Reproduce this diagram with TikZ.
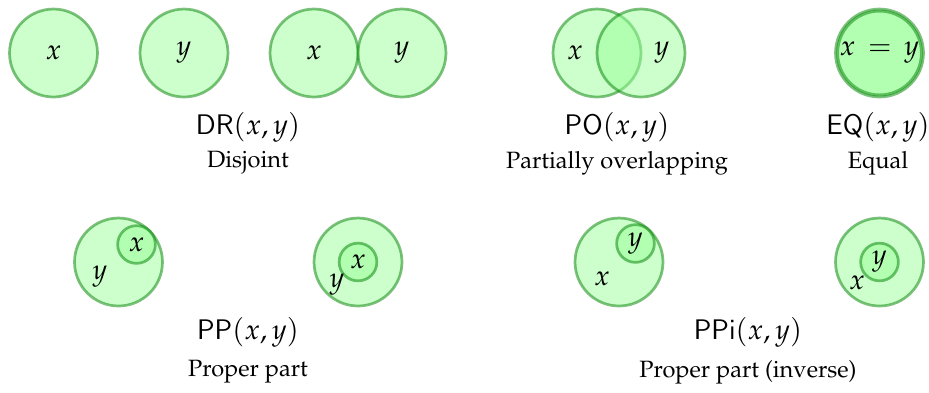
\documentclass[tikz,border=0pt]{standalone}
\usepackage[T1]{fontenc}
\usepackage{mathpazo}
\renewcommand{\sfdefault}{lmss}
\begin{document}
\begin{tikzpicture}[x=0.424pt,y=-0.424pt,
  region/.style={circle,inner sep=0pt,draw=green!50!black,fill=green!40,
    draw opacity=0.5,fill opacity=0.5,text opacity=1,line width=1.15pt,font=\large},
  big/.style={region,minimum size=37.3pt},
  small/.style={region,minimum size=16pt},
  lbl/.style={inner sep=0pt},
  mlbl/.style={inner sep=0pt,font=\large}]
\useasboundingbox (0,0) rectangle (929,392);
% Disjoint
\node[big] (d1) at (53.5,53) {$x$};
\node[big] (d2) at (184,53) {$y$};
\node[big] (d3) at (314,53) {$x$};
\node[big] (d4) at (402,53) {$y$};
\node[mlbl] (drl) at (248,127) {$\mathsf{DR}(x,y)$};
\node[lbl] (drt) at (248,163) {Disjoint};
% Partially overlapping
\node[big] (po1) at (597,53) {};
\node[big] (po2) at (641,53) {};
\node[mlbl] (pox) at (575,53) {$x$};
\node[mlbl] (poy) at (662,53) {$y$};
\node[mlbl] (pol) at (617,127) {$\mathsf{PO}(x,y)$};
\node[lbl] (pot) at (617,163) {Partially overlapping};
% Equal
\node[big] (eq1) at (879.5,53) {};
\node[region,minimum size=35.5pt] (eq2) at (879.5,53) {};
\node[mlbl] (eqx) at (879.5,53) {$x\,=\,y$};
\node[mlbl] (eql) at (878,127) {$\mathsf{EQ}(x,y)$};
\node[lbl] (eqt) at (878,163) {Equal};
% Proper part
\node[big] (pa1) at (118.5,262) {};
\node[small] (pa2) at (136.5,244.5) {$x$};
\node[mlbl] (pay) at (100,277) {$y$};
\node[big] (pb1) at (358,262) {};
\node[small] (pb2) at (358,262) {$x$};
\node[mlbl] (pby) at (337,285) {$y$};
\node[mlbl] (ppl) at (248,332) {$\mathsf{PP}(x,y)$};
\node[lbl] (ppt) at (248,372) {Proper part};
% Proper part inverse
\node[big] (pc1) at (619,262) {};
\node[small] (pc2) at (635.5,243.5) {$y$};
\node[mlbl] (pcx) at (602,279) {$x$};
\node[big] (pd1) at (879.5,262) {};
\node[small] (pd2) at (879.5,262) {$y$};
\node[mlbl] (pdx) at (857,283) {$x$};
\node[mlbl] (pil) at (748,332) {$\mathsf{PPi}(x,y)$};
\node[lbl] (pit) at (748,372) {Proper part (inverse)};
\end{tikzpicture}
\end{document}
